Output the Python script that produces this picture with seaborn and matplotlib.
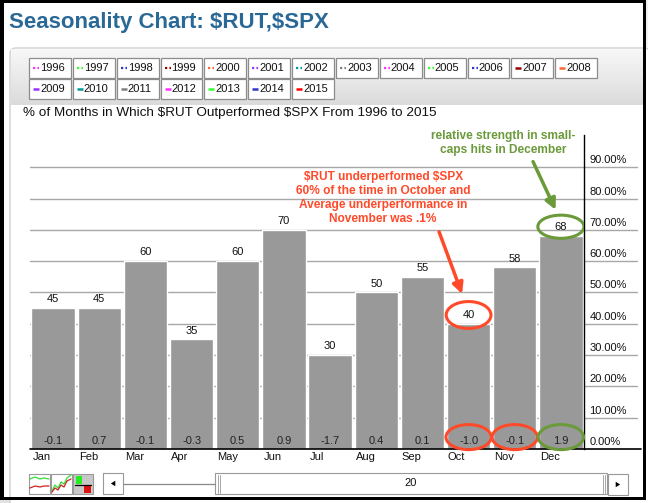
import numpy as np
import pandas as pd
import seaborn as sns
import matplotlib
matplotlib.use('Agg')
import matplotlib.pyplot as plt
from matplotlib.patches import Rectangle, Ellipse, FancyBboxPatch, Polygon
from matplotlib.transforms import ScaledTranslation

# data
months = ['Jan', 'Feb', 'Mar', 'Apr', 'May', 'Jun', 'Jul', 'Aug', 'Sep', 'Oct', 'Nov', 'Dec']
pct_outperf = [45, 45, 60, 35, 60, 70, 30, 50, 55, 40, 58, 68]
avg_diff = ['-0.1', '0.7', '-0.1', '-0.3', '0.5', '0.9', '-1.7', '0.4', '0.1', '-1.0', '-0.1', '1.9']
years = [str(y) for y in range(1996, 2016)]
year_colors = ['#ff33ff', '#33ff33', '#3333cc', '#990000', '#ff6633', '#9933ff', '#009999',
               '#808080', '#ff33ff', '#33ff33', '#3333cc', '#990000', '#ff6633', '#9933ff',
               '#009999', '#808080', '#ff33ff', '#33ff33', '#3333cc', '#ff0000']
ytick_vals = [0, 10, 20, 30, 40, 50, 60, 70, 80, 90]

sns.set_style('white')
plt.rcParams['font.family'] = ['Liberation Sans', 'DejaVu Sans']

RED = '#ff4a2a'
GREEN = '#6a9a3a'
W, H = 648, 503

fig = plt.figure(figsize=(W / 100, H / 100), dpi=100)
fig.patch.set_facecolor('white')

# background axes in pixel coords (top-left origin)
bg = fig.add_axes([0, 0, 1, 1], zorder=0)
bg.set_xlim(0, W)
bg.set_ylim(H, 0)
bg.axis('off')

# page frame
bg.add_patch(Rectangle((0, 500), W, 3, color='#e2e2e2', lw=0))
bg.add_patch(Rectangle((646, 0), 2, H, color='#f2f2f2', lw=0))
bg.add_patch(FancyBboxPatch((10, 48), 640, 460, boxstyle='round,pad=0,rounding_size=6',
                            fc='white', ec='#d0d0d0', lw=1))
# legend panel gradient
grad = np.linspace(0.97, 0.86, 60)
grad = np.dstack([grad, grad, grad]).reshape(60, 1, 3)
bg.imshow(grad, extent=[11, 643, 105, 49], aspect='auto', zorder=1)
bg.set_xlim(0, W)
bg.set_ylim(H, 0)

bg.text(9, 22.5, r'Seasonality Chart: \$RUT,\$SPX', fontsize=16, fontweight='bold',
        color='#2a6896', va='center', ha='left')

# legend boxes
step = 43.85
for i, (yr, c) in enumerate(zip(years, year_colors)):
    row, col = (0, i) if i < 13 else (1, i - 13)
    x0 = 29 + col * step
    y0 = 58 + row * 21
    bg.add_patch(Rectangle((x0, y0), step - 2, 19.5, fc='white', ec='#8c8c8c', lw=0.9, zorder=2))
    if int(yr) <= 2006:
        bg.plot([x0 + 4, x0 + 10], [y0 + 10, y0 + 10], color=c, lw=1.6, ls=(0, (1, 1)),
                solid_capstyle='butt', dash_capstyle='butt', zorder=3)
    else:
        bg.plot([x0 + 4, x0 + 10], [y0 + 10, y0 + 10], color=c, lw=1.8, zorder=3,
                solid_capstyle='butt')
    bg.text(x0 + 11, y0 + 10, yr, fontsize=8, va='center', ha='left', color='#111111', zorder=3)

bg.text(23, 113, r'% of Months in Which \$RUT Outperformed \$SPX From 1996 to 2015',
        fontsize=9.7, va='center', ha='left', color='#111111')

# bottom controls
bg.add_patch(Rectangle((29, 474), 21, 20, fc='white', ec='#999999', lw=0.8))
bg.plot([30, 35, 40, 44, 49], [479, 477, 479, 478, 479], color='#33dd33', lw=0.9)
bg.plot([30, 35, 40, 44, 49], [488, 486, 487, 486, 486], color='#cc2222', lw=0.9)
bg.add_patch(Rectangle((51, 474), 21, 20, fc='white', ec='#999999', lw=0.8))
bg.plot([52, 55, 58, 61, 64, 67, 71], [491, 485, 488, 482, 484, 478, 475], color='#33dd33', lw=0.9)
bg.plot([52, 55, 58, 61, 64, 67, 71], [492, 488, 490, 485, 487, 481, 479], color='#cc2222', lw=0.9)
bg.add_patch(Rectangle((73, 474), 20, 20, fc='#c8c8c8', ec='#999999', lw=0.8))
bg.add_patch(Rectangle((76, 476), 6, 8, fc='#22ee22', lw=0))
bg.plot([75, 91], [485, 485], color='black', lw=0.9)
bg.add_patch(Rectangle((84, 486), 7, 7, fc='#dd1111', lw=0))

bg.add_patch(Rectangle((103, 473), 20, 21, fc='white', ec='#999999', lw=0.8))
bg.add_patch(Polygon([[109.5, 483.5], [116, 479.5], [116, 487.5]], closed=True, fc='black'))
bg.plot([123, 215], [483.5, 483.5], color='#888888', lw=0.9)
bg.add_patch(Rectangle((215, 473), 392, 21, fc='white', ec='#999999', lw=0.8))
for xx in (217.5, 219.5, 602.5, 604.5):
    bg.plot([xx, xx], [474.5, 492.5], color='#999999', lw=0.6)
bg.text(411, 483.5, '20', fontsize=8, ha='center', va='center', color='#111111')
bg.add_patch(Rectangle((608, 474), 20, 21, fc='white', ec='#999999', lw=0.8))
bg.add_patch(Polygon([[621.5, 484.5], [615, 480.5], [615, 488.5]], closed=True, fc='black'))

# black outer frame
for r in [(0, 0, W - 2, 3), (0, 0, 3.5, 500), (643, 0, 3, 500), (0, 497, 646, 3)]:
    bg.add_patch(Rectangle(r[:2], r[2], r[3], color='black', lw=0, zorder=5))

# main chart axes
ax = fig.add_axes([30 / W, (H - 449) / H, 554 / W, (449 - 135) / H], zorder=1)
ax.patch.set_alpha(0)
df = pd.DataFrame({'month': months, 'pct': pct_outperf})
sns.barplot(data=df, x='month', y='pct', color='#999999', saturation=1, width=0.94,
            ax=ax, zorder=2)
ax.set_xlim(-0.5, 11.5)
ax.set_ylim(0, 100.3)
ax.set_xlabel('')
ax.set_ylabel('')

for v in ytick_vals[1:]:
    ax.axhline(v, xmin=0, xmax=(637 - 30) / 554, color='#a8a8a8', lw=1, zorder=0, clip_on=False)
ax.axhline(0, xmin=0, xmax=(641 - 30) / 554, color='black', lw=1.2, zorder=4, clip_on=False)

for s in ['top', 'left', 'bottom']:
    ax.spines[s].set_visible(False)
ax.spines['right'].set_color('black')
ax.spines['right'].set_linewidth(1)

ax.yaxis.tick_right()
ax.set_yticks(ytick_vals)
ax.set_yticklabels([f'{v:.2f}%' for v in ytick_vals], fontsize=8, color='#111111')
ax.tick_params(axis='y', length=0, pad=4)
for lab in ax.get_yticklabels():
    lab.set_transform(lab.get_transform() + ScaledTranslation(0, 8 / 100, fig.dpi_scale_trans))

ax.set_xticks(np.arange(12) - 0.5)
ax.set_xticklabels([])
ax.tick_params(axis='x', direction='out', length=10, width=0.7, color='#333333')

for i, m in enumerate(months):
    ax.text(i - 0.5 + 2.5 / 46.17, -2.5, m, fontsize=8, ha='left', va='center',
            color='#111111', clip_on=False)
    ax.text(i, pct_outperf[i] + 2.85, str(pct_outperf[i]), fontsize=8, ha='center',
            va='center', color='#111111', zorder=5)
    ax.text(i, 2.65, avg_diff[i], fontsize=8, ha='center', va='center', color='#222222', zorder=5)

# highlight ellipses
ax.add_patch(Ellipse((9, pct_outperf[9] + 2.8), 0.97, 8.6, fill=False, ec=RED, lw=2.2, zorder=6))
ax.add_patch(Ellipse((11, pct_outperf[11] + 3.0), 1.0, 7.4, fill=False, ec=GREEN, lw=2.2, zorder=6))
for i, c in [(9, RED), (10, RED), (11, GREEN)]:
    ax.add_patch(Ellipse((i, 3.8), 0.98, 8.0, fill=False, ec=c, lw=2.2, zorder=6, clip_on=False))

# annotations
ax.text(7.15, 80.2, '\\$RUT underperformed \\$SPX\n60% of the time in October and\n'
        'Average underperformance in\nNovember was .1%', fontsize=8.6, fontweight='bold',
        color=RED, ha='center', va='center', linespacing=1.2, zorder=7)
ax.annotate('', xy=(8.88, 48.7), xytext=(8.34, 70.2),
            arrowprops=dict(arrowstyle='-|>', color=RED, lw=2.5, mutation_scale=16), zorder=7)
ax.text(9.74, 97.8, 'relative strength in small-\ncaps hits in December', fontsize=8.6,
        fontweight='bold', color=GREEN, ha='center', va='center', linespacing=1.2,
        zorder=7, clip_on=False)
ax.annotate('', xy=(10.91, 75.6), xytext=(10.37, 92.6),
            arrowprops=dict(arrowstyle='-|>', color=GREEN, lw=2.5, mutation_scale=16), zorder=7)

fig.savefig('out.png', dpi=100)
